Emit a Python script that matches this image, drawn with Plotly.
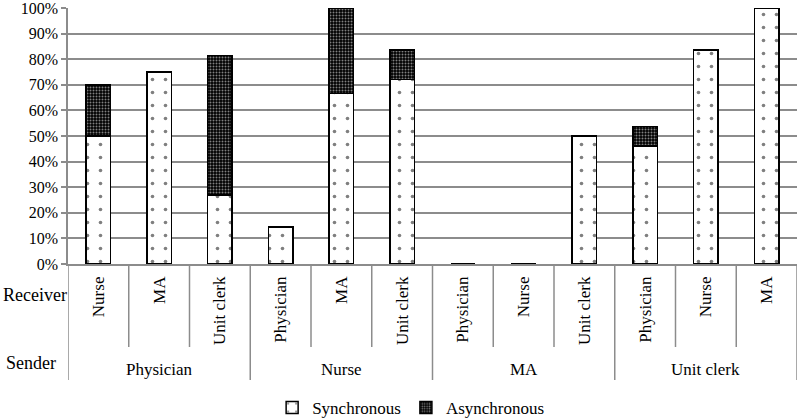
import plotly.graph_objects as go

senders = ["Physician", "Nurse", "MA", "Unit clerk"]
receivers = ["Nurse", "MA", "Unit clerk",
             "Physician", "MA", "Unit clerk",
             "Physician", "Nurse", "Unit clerk",
             "Physician", "Nurse", "MA"]
group_size = [3, 3, 3, 3]
synchronous = [0.50, 0.75, 0.27, 0.145, 0.667, 0.72, 0, 0, 0.50, 0.46, 0.835, 1.00]
asynchronous = [0.20, 0, 0.545, 0, 0.333, 0.115, 0, 0, 0, 0.077, 0, 0]

FONT = "Liberation Serif"
GRID = "#8c8c8c"

x_idx = list(range(len(receivers)))

fig = go.Figure()

fig.add_trace(go.Bar(
    x=x_idx,
    y=synchronous,
    name="Synchronous",
    marker=dict(
        color="white",
        line=dict(color="black", width=1.5),
        pattern=dict(shape=".", fgcolor="black", bgcolor="white", size=13, solidity=0.06),
    ),
))
fig.add_trace(go.Bar(
    x=x_idx,
    y=asynchronous,
    name="Asynchronous",
    marker=dict(
        color="black",
        line=dict(color="black", width=1.5),
        pattern=dict(shape=".", fgcolor="white", bgcolor="black", size=3, solidity=0.35),
    ),
))

# category axis boundaries: short ones between receivers, long ones between senders
inner_bottom = -83 / 256
group_bottom = -116 / 256
edges = [-0.5]
for n in group_size:
    edges.append(edges[-1] + n)
for i in range(len(receivers) + 1):
    b = i - 0.5
    y1 = group_bottom if b in edges else inner_bottom
    fig.add_shape(type="line", xref="x", yref="paper", x0=b, x1=b, y0=0, y1=y1,
                  line=dict(color=GRID, width=1.5))

# sender labels centred under each group
for k, s in enumerate(senders):
    fig.add_annotation(x=(edges[k] + edges[k + 1]) / 2, y=-105 / 256, xref="x", yref="paper",
                       text=s, showarrow=False, yanchor="middle",
                       font=dict(family=FONT, size=17, color="black"))

# level names on the left
fig.add_annotation(x=0, y=-31 / 256, xref="paper", yref="paper", xanchor="right",
                   yanchor="middle", text="Receiver", showarrow=False, xshift=1,
                   font=dict(family=FONT, size=18, color="black"))
fig.add_annotation(x=0, y=-99 / 256, xref="paper", yref="paper", xanchor="right",
                   yanchor="middle", text="Sender", showarrow=False, xshift=-10,
                   font=dict(family=FONT, size=18, color="black"))

fig.update_layout(
    width=800, height=420,
    barmode="stack",
    bargap=0.6,
    plot_bgcolor="white",
    paper_bgcolor="white",
    margin=dict(l=68, r=3, t=8, b=156, autoexpand=False),
    font=dict(family=FONT, size=16, color="black"),
    showlegend=True,
    legend=dict(
        orientation="h", x=0.47, xanchor="center", y=-126 / 256, yanchor="top",
        font=dict(family=FONT, size=17), traceorder="normal", itemwidth=30,
    ),
    xaxis=dict(
        range=[-0.5, len(receivers) - 0.5],
        tickmode="array", tickvals=x_idx, ticktext=receivers,
        tickangle=-90,
        ticks="", ticklabelstandoff=4,
        showline=True, linecolor=GRID, linewidth=1.5,
        showgrid=False, zeroline=False, automargin=False,
        tickfont=dict(family=FONT, size=17),
    ),
    yaxis=dict(
        range=[0, 1],
        tickvals=[i / 10 for i in range(11)],
        tickformat=".0%",
        ticklabeloverflow="allow",
        showgrid=True, gridcolor=GRID, gridwidth=1.5,
        ticks="outside", ticklen=5, tickcolor=GRID, tickwidth=1.5,
        showline=True, linecolor=GRID, linewidth=1.5,
        zeroline=False, automargin=False,
        tickfont=dict(family=FONT, size=16),
    ),
)

post = (
    "document.body.style.margin='0';"
    "var gd = document.getElementById('{plot_id}');"
    "document.fonts.load('16px \"Liberation Serif\"').then(function(){ Plotly.redraw(gd); });"
)
fig.write_html("out.html", config={"displayModeBar": False}, post_script=post)
